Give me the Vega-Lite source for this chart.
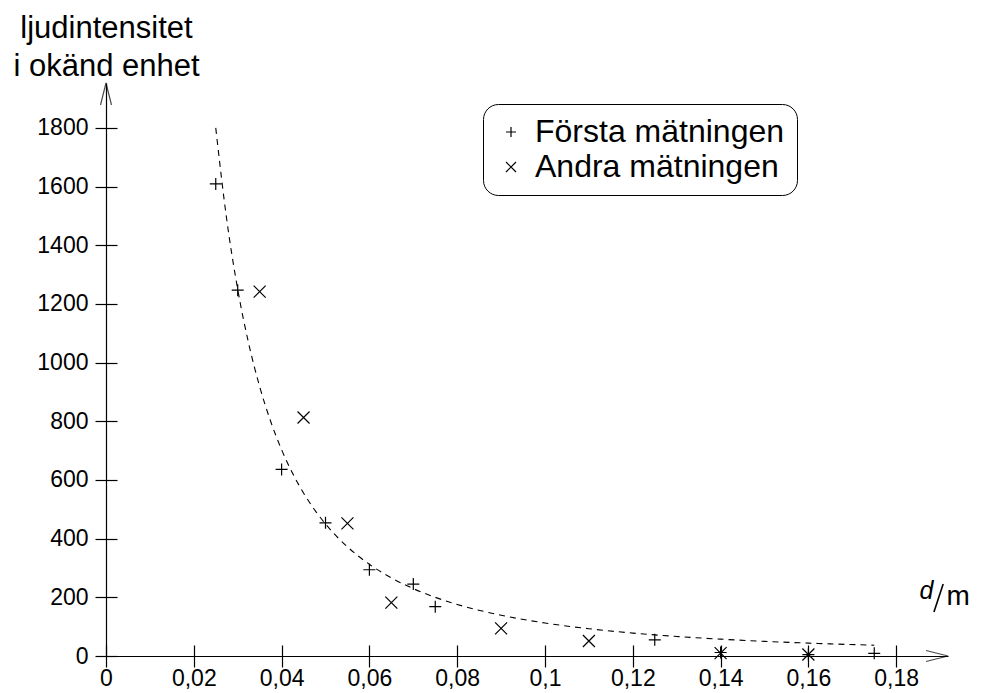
{
  "$schema": "https://vega.github.io/schema/vega-lite/v6.json",
  "width": 842,
  "height": 573,
  "autosize": {"type": "none"},
  "padding": {"left": 106, "top": 83, "right": 36, "bottom": 37},
  "background": "white",
  "config": {
    "view": {"stroke": null},
    "axis": {"grid": false, "labelFontSize": 23, "labelColor": "#000", "domainColor": "#000", "tickColor": "#000", "domainWidth": 1.2, "tickWidth": 1.2, "titleColor": "#000", "titleFontWeight": "normal"},
    "legend": {"labelColor": "#000"}
  },
  "datasets": {
    "points": [
      {"d": 0.025, "I": 1609, "serie": "Första mätningen"},
      {"d": 0.03, "I": 1247, "serie": "Första mätningen"},
      {"d": 0.04, "I": 636, "serie": "Första mätningen"},
      {"d": 0.05, "I": 454, "serie": "Första mätningen"},
      {"d": 0.06, "I": 294, "serie": "Första mätningen"},
      {"d": 0.07, "I": 245, "serie": "Första mätningen"},
      {"d": 0.075, "I": 168, "serie": "Första mätningen"},
      {"d": 0.125, "I": 55, "serie": "Första mätningen"},
      {"d": 0.14, "I": 12, "serie": "Första mätningen"},
      {"d": 0.16, "I": 5, "serie": "Första mätningen"},
      {"d": 0.175, "I": 9, "serie": "Första mätningen"},
      {"d": 0.035, "I": 1242, "serie": "Andra mätningen"},
      {"d": 0.045, "I": 813, "serie": "Andra mätningen"},
      {"d": 0.055, "I": 452, "serie": "Andra mätningen"},
      {"d": 0.065, "I": 182, "serie": "Andra mätningen"},
      {"d": 0.09, "I": 94, "serie": "Andra mätningen"},
      {"d": 0.11, "I": 51, "serie": "Andra mätningen"},
      {"d": 0.14, "I": 10, "serie": "Andra mätningen"},
      {"d": 0.16, "I": 5, "serie": "Andra mätningen"}
    ],
    "curve": [
      {"d": 0.025, "I": 1800},
      {"d": 0.0275, "I": 1487.6},
      {"d": 0.03, "I": 1250},
      {"d": 0.0325, "I": 1065.1},
      {"d": 0.035, "I": 918.4},
      {"d": 0.0375, "I": 800},
      {"d": 0.04, "I": 703.1},
      {"d": 0.0425, "I": 622.8},
      {"d": 0.045, "I": 555.6},
      {"d": 0.0475, "I": 498.6},
      {"d": 0.05, "I": 450},
      {"d": 0.055, "I": 371.9},
      {"d": 0.06, "I": 312.5},
      {"d": 0.065, "I": 266.3},
      {"d": 0.07, "I": 229.6},
      {"d": 0.075, "I": 200},
      {"d": 0.08, "I": 175.8},
      {"d": 0.09, "I": 138.9},
      {"d": 0.1, "I": 112.5},
      {"d": 0.11, "I": 93.0},
      {"d": 0.12, "I": 78.1},
      {"d": 0.13, "I": 66.6},
      {"d": 0.14, "I": 57.4},
      {"d": 0.15, "I": 50},
      {"d": 0.16, "I": 43.9},
      {"d": 0.175, "I": 36.7}
    ]
  },
  "layer": [
    {
      "data": {"name": "points"},
      "mark": {"type": "point", "filled": false, "stroke": "#000", "strokeWidth": 1.2, "size": 144, "opacity": 1},
      "encoding": {
        "x": {"field": "d", "type": "quantitative", "scale": {"domain": [0, 0.1918], "nice": false, "zero": false},
          "axis": {"orient": "bottom", "values": [0, 0.02, 0.04, 0.06, 0.08, 0.1, 0.12, 0.14, 0.16, 0.18], "labelExpr": "replace(format(datum.value, '~g'), '.', ',')", "tickSize": 11, "labelPadding": 0, "title": null, "labelFlush": false, "labelOverlap": false}},
        "y": {"field": "I", "type": "quantitative", "scale": {"domain": [0, 1953], "nice": false, "zero": false},
          "axis": {"orient": "left", "values": [0, 200, 400, 600, 800, 1000, 1200, 1400, 1600, 1800], "format": "d", "tickSize": 11, "labelPadding": 7, "labelFlush": false, "labelOverlap": false,
            "title": ["ljudintensitet", "i okänd enhet"], "titleAngle": 0, "titleAlign": "center", "titleBaseline": "alphabetic", "titleX": 0, "titleY": -46, "titleFontSize": 31, "titleLineHeight": 38}},
        "shape": {"field": "serie", "type": "nominal",
          "scale": {"domain": ["Första mätningen", "Andra mätningen"], "range": ["M-1,0H1M0,-1V1", "M-1,-1L1,1M-1,1L1,-1"]},
          "legend": {"title": null, "orient": "none", "legendX": 377, "legendY": 21, "padding": 12, "strokeColor": "#000", "fillColor": "#fff", "cornerRadius": 15, "labelFontSize": 32, "labelOffset": 8, "symbolOffset": 0, "symbolSize": 100, "symbolStrokeWidth": 1.2, "symbolStrokeColor": "#000", "symbolFillColor": "transparent", "rowPadding": 3, "labelLimit": 400}}
      }
    },
    {
      "data": {"name": "curve"},
      "mark": {"type": "line", "color": "#000", "strokeWidth": 1.1, "strokeDash": [6, 5], "interpolate": "monotone"},
      "encoding": {
        "x": {"field": "d", "type": "quantitative", "scale": {"domain": [0, 0.1918], "nice": false, "zero": false},
          "axis": {"orient": "top", "offset": -573, "values": [0, 0.02, 0.04, 0.06, 0.08, 0.1, 0.12, 0.14, 0.16, 0.18], "labels": false, "domain": false, "tickSize": 11, "title": null}},
        "y": {"field": "I", "type": "quantitative", "scale": {"domain": [0, 1953], "nice": false, "zero": false},
          "axis": {"orient": "right", "offset": -842, "values": [0, 200, 400, 600, 800, 1000, 1200, 1400, 1600, 1800], "labels": false, "domain": false, "tickSize": 11, "title": null}}
      }
    },
    {
      "data": {"values": [{}]},
      "mark": {"type": "point", "shape": "M-2,-0.5L0,0L-2,0.5", "size": 484, "filled": false, "stroke": "#000", "strokeWidth": 1.2},
      "encoding": {
        "x": {"datum": 0.1918, "type": "quantitative", "axis": null},
        "y": {"datum": 0, "type": "quantitative", "axis": null}
      }
    },
    {
      "data": {"values": [{}]},
      "mark": {"type": "point", "shape": "M-0.5,2L0,0L0.5,2", "size": 484, "filled": false, "stroke": "#000", "strokeWidth": 1.2},
      "encoding": {
        "x": {"datum": 0, "type": "quantitative", "axis": null},
        "y": {"datum": 1953, "type": "quantitative", "axis": null}
      }
    },
    {
      "data": {"values": [{}]},
      "mark": {"type": "text", "text": "d", "fontStyle": "italic", "fontSize": 25, "align": "center", "baseline": "alphabetic", "color": "#000"},
      "encoding": {
        "x": {"datum": 0.1869, "type": "quantitative", "axis": null},
        "y": {"datum": 195, "type": "quantitative", "axis": null}
      }
    },
    {
      "data": {"values": [{}]},
      "mark": {"type": "rule", "color": "#000", "strokeWidth": 1.6},
      "encoding": {
        "x": {"datum": 0.1886, "type": "quantitative", "axis": null},
        "x2": {"datum": 0.1907},
        "y": {"datum": 150, "type": "quantitative", "axis": null},
        "y2": {"datum": 245}
      }
    },
    {
      "data": {"values": [{}]},
      "mark": {"type": "text", "text": "m", "fontSize": 28, "align": "center", "baseline": "alphabetic", "color": "#000"},
      "encoding": {
        "x": {"datum": 0.1941, "type": "quantitative", "axis": null},
        "y": {"datum": 174, "type": "quantitative", "axis": null}
      }
    }
  ],
  "resolve": {"axis": {"x": "independent", "y": "independent"}}
}
